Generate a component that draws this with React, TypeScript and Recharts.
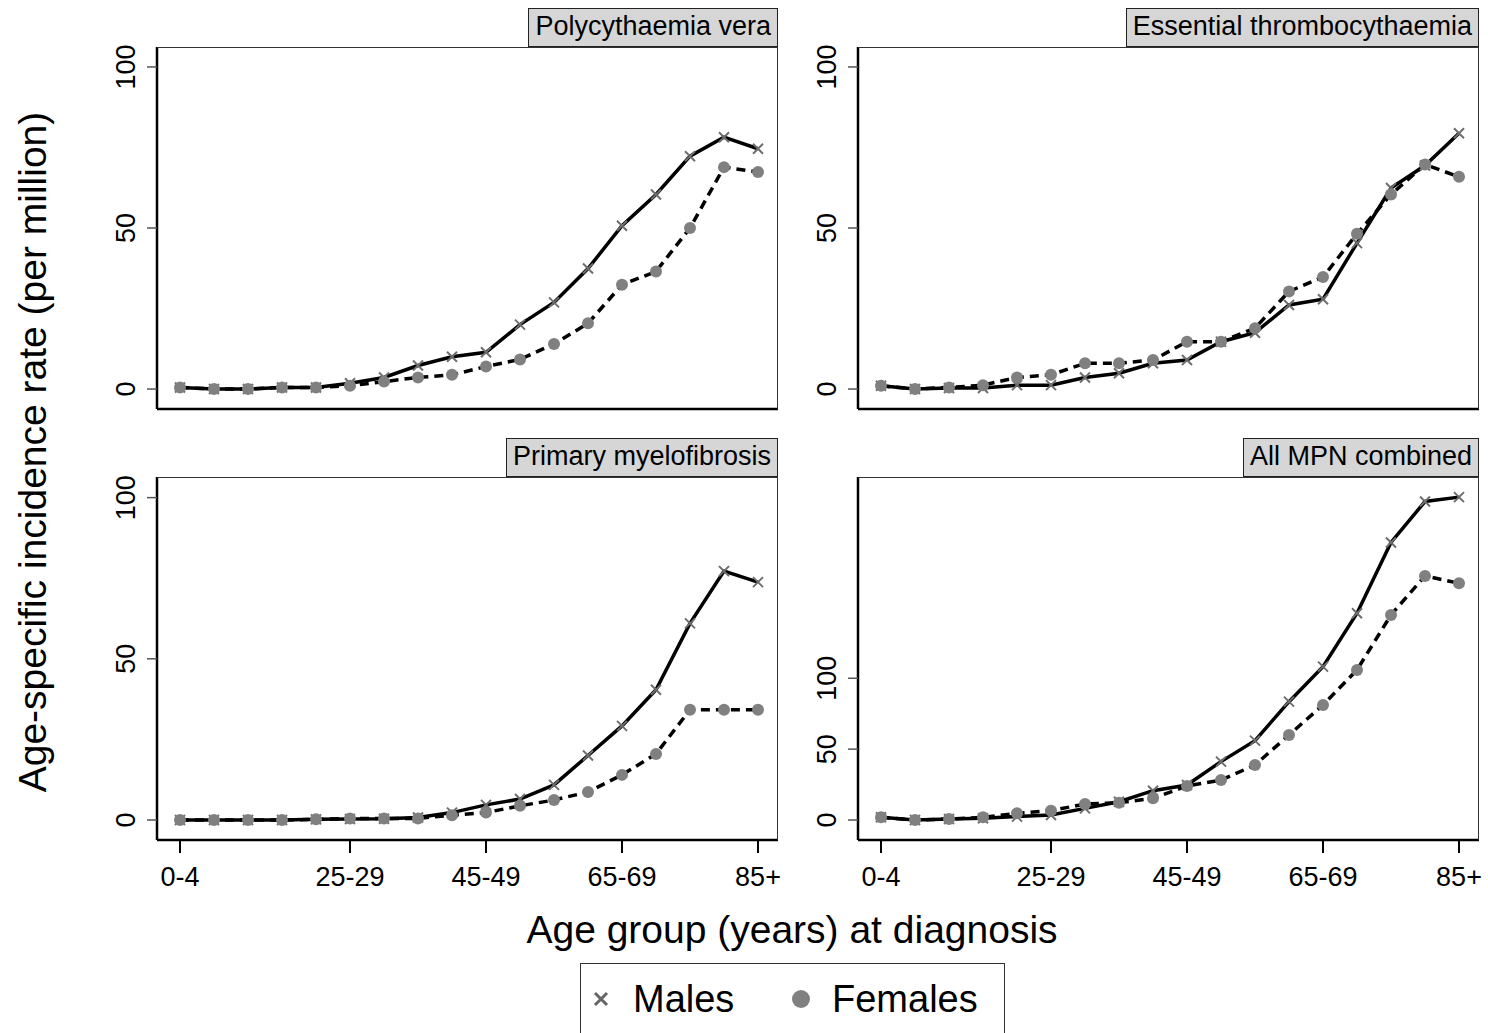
import React from 'react';
import { LineChart, Line, XAxis, YAxis } from 'recharts';

// age groups at diagnosis
const ages = [
  '0-4', '5-9', '10-14', '15-19', '20-24', '25-29', '30-34', '35-39', '40-44',
  '45-49', '50-54', '55-59', '60-64', '65-69', '70-74', '75-79', '80-84', '85+',
];
const xTicks = ['0-4', '25-29', '45-49', '65-69', '85+'];

// rates per million
const pvMales = [0.5, 0, 0, 0.5, 0.5, 1.8, 3.6, 7.3, 10, 11.4, 20, 26.9, 37.4, 50.7, 60.4, 72.3, 78.2, 74.6];
const pvFemales = [0.5, 0, 0, 0.5, 0.5, 1, 2.3, 3.6, 4.4, 7, 9.2, 14, 20.4, 32.4, 36.5, 50, 68.9, 67.4];
const etMales = [1, 0, 0.3, 0.3, 1.2, 1.2, 3.6, 4.9, 8, 9, 14.7, 17.5, 26.1, 27.9, 45.3, 62.4, 69.4, 79.4];
const etFemales = [1, 0, 0.5, 1.2, 3.6, 4.4, 8, 8, 9, 14.7, 14.7, 18.9, 30.3, 34.8, 48.2, 60.4, 69.7, 65.9];
const pmfMales = [0, 0, 0, 0, 0.2, 0.3, 0.4, 0.8, 2.3, 4.7, 6.5, 10.9, 20, 29.2, 40.4, 61, 77.2, 73.8];
const pmfFemales = [0, 0, 0, 0, 0.2, 0.5, 0.5, 0.5, 1.5, 2.3, 4.4, 6.2, 8.7, 14, 20.5, 34.2, 34.2, 34.2];
const allMales = [1.9, 0, 0.7, 1.2, 2.4, 3.5, 8.2, 12.9, 20.7, 24.7, 41.2, 56, 83.5, 108.2, 145.9, 195.8, 224.7, 227.8];
const allFemales = [1.9, 0, 0.7, 1.9, 4.7, 6.6, 11.3, 12.2, 15.3, 24, 28.2, 38.8, 60, 81.2, 105.9, 144.7, 172.2, 167];

const yTicks = [0, 50, 100];

const FONT = '"Liberation Sans", Arial, Helvetica, sans-serif';
const GREY = '#808080';
const Y_W = 60;
const X_H = 70;

const panels = [
  { title: 'Polycythaemia vera', males: pvMales, females: pvFemales, left: 157, top: 47, w: 621, h: 362, domain: [-6.2, 106.2], xLabels: false },
  { title: 'Essential thrombocythaemia', males: etMales, females: etFemales, left: 858, top: 47, w: 621, h: 362, domain: [-6.2, 106.2], xLabels: false },
  { title: 'Primary myelofibrosis', males: pmfMales, females: pmfFemales, left: 157, top: 477, w: 621, h: 363, domain: [-6.2, 106.4], xLabels: true },
  { title: 'All MPN combined', males: allMales, females: allFemales, left: 858, top: 477, w: 621, h: 363, domain: [-14.1, 242], xLabels: true },
];

const crossDot = (props: any) => {
  const { cx, cy, index } = props;
  if (cx == null || cy == null) return <g key={`c-${index}`} />;
  const s = 5;
  return (
    <path
      key={`c-${index}`}
      d={`M${cx - s},${cy - s}L${cx + s},${cy + s}M${cx - s},${cy + s}L${cx + s},${cy - s}`}
      stroke="#6e6e6e"
      strokeWidth={2}
      fill="none"
    />
  );
};

const circleDot = (props: any) => {
  const { cx, cy, index } = props;
  if (cx == null || cy == null) return <g key={`o-${index}`} />;
  return <circle key={`o-${index}`} cx={cx} cy={cy} r={6} fill={GREY} stroke="none" />;
};

const YTick = (props: any) => {
  const { x, y, payload } = props;
  return (
    <text
      x={0}
      y={0}
      transform={`translate(${x - 22},${y}) rotate(-90)`}
      textAnchor="middle"
      dy="0.36em"
      fontSize={27}
      fontFamily={FONT}
      fill="#000"
    >
      {payload.value}
    </text>
  );
};

const Panel = ({ p }: { p: (typeof panels)[number] }) => {
  const data = ages.map((age, i) => ({ age, males: p.males[i], females: p.females[i] }));
  return (
    <>
      <div style={{ position: 'absolute', left: p.left - Y_W, top: p.top - 5 }}>
        <LineChart
          width={Y_W + p.w + 10}
          height={p.h + 5 + X_H}
          data={data}
          margin={{ top: 5, right: 10, left: 0, bottom: 0 }}
        >
          <XAxis
            dataKey="age"
            type="category"
            ticks={xTicks}
            interval={0}
            padding={{ left: 23, right: 20 }}
            height={X_H}
            tickSize={13}
            tickMargin={14}
            axisLine={{ stroke: '#000', strokeWidth: 2.5 }}
            tickLine={p.xLabels ? { stroke: '#000', strokeWidth: 2 } : false}
            tick={p.xLabels ? { fontSize: 27, fontFamily: FONT, fill: '#000' } : false}
          />
          <YAxis
            type="number"
            domain={p.domain}
            allowDataOverflow
            ticks={yTicks}
            width={Y_W}
            tickSize={10}
            tickMargin={0}
            axisLine={{ stroke: '#000', strokeWidth: 2.5 }}
            tickLine={{ stroke: '#555', strokeWidth: 1.5 }}
            tick={<YTick />}
          />
          <Line dataKey="males" stroke="none" dot={crossDot} activeDot={false} isAnimationActive={false} legendType="none" />
          <Line dataKey="males" stroke="#000" strokeWidth={3.5} dot={false} activeDot={false} isAnimationActive={false} />
          <Line dataKey="females" stroke="none" dot={circleDot} activeDot={false} isAnimationActive={false} legendType="none" />
          <Line
            dataKey="females"
            stroke="#000"
            strokeWidth={3.5}
            strokeDasharray="9 6"
            dot={false}
            activeDot={false}
            isAnimationActive={false}
          />
        </LineChart>
      </div>
      {/* plot frame, top and right edges */}
      <div
        style={{
          position: 'absolute',
          left: p.left,
          top: p.top,
          width: p.w,
          height: p.h,
          boxSizing: 'border-box',
          borderTop: '1.5px solid #333',
          borderRight: '1.5px solid #333',
          pointerEvents: 'none',
        }}
      />
      {/* facet title strip */}
      <div
        style={{
          position: 'absolute',
          right: 1488 - (p.left + p.w),
          top: p.top - 39,
          height: 39,
          boxSizing: 'border-box',
          border: '1.5px solid #222',
          background: '#d6d6d6',
          padding: '0 6px',
          lineHeight: '35px',
          fontSize: 27,
          fontFamily: FONT,
          whiteSpace: 'nowrap',
          color: '#000',
        }}
      >
        {p.title}
      </div>
    </>
  );
};

export default function App() {
  return (
    <div
      style={{
        position: 'absolute',
        left: 0,
        top: 0,
        width: 1488,
        height: 1033,
        background: '#fff',
        overflow: 'hidden',
        fontFamily: FONT,
      }}
    >
      {panels.map((p) => (
        <Panel key={p.title} p={p} />
      ))}

      {/* y axis title */}
      <div
        style={{
          position: 'absolute',
          left: 33,
          top: 452,
          transform: 'translate(-50%, -50%) rotate(-90deg)',
          fontSize: 39,
          whiteSpace: 'nowrap',
          color: '#000',
        }}
      >
        Age-specific incidence rate (per million)
      </div>

      {/* x axis title */}
      <div
        style={{
          position: 'absolute',
          left: 792,
          top: 930,
          transform: 'translate(-50%, -50%)',
          fontSize: 39,
          whiteSpace: 'nowrap',
          color: '#000',
        }}
      >
        Age group (years) at diagnosis
      </div>

      {/* legend */}
      <div
        style={{
          position: 'absolute',
          left: 580,
          top: 963,
          width: 425,
          height: 90,
          boxSizing: 'border-box',
          border: '1.5px solid #333',
        }}
      >
        <svg width={425} height={90} style={{ position: 'absolute', left: -1.5, top: -1.5 }}>
          <path d="M15,30L27,42M15,42L27,30" stroke="#666" strokeWidth={3} fill="none" />
          <text x={53} y={49} fontSize={38} fontFamily={FONT} fill="#000">
            Males
          </text>
          <circle cx={221} cy={36} r={9} fill={GREY} />
          <text x={252} y={49} fontSize={38} fontFamily={FONT} fill="#000">
            Females
          </text>
        </svg>
      </div>
    </div>
  );
}
